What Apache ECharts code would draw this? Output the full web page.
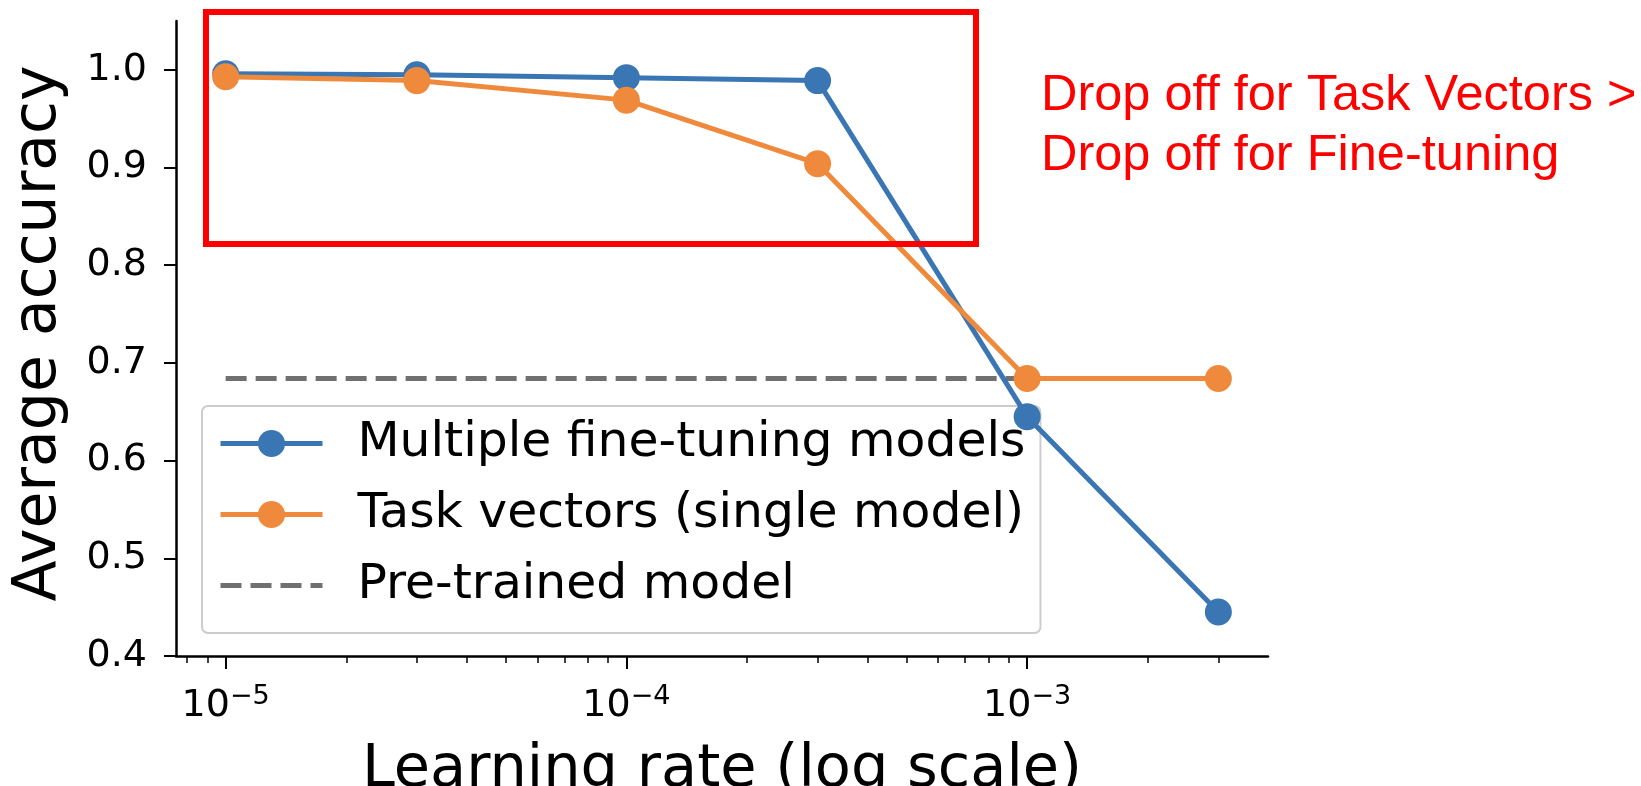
<!DOCTYPE html>
<html>
<head>
<meta charset="utf-8">
<script src="https://cdn.jsdelivr.net/npm/echarts@6/dist/echarts.min.js"></script>
<style>
html,body{margin:0;padding:0;background:#ffffff;}
#chart{width:1641px;height:786px;}
</style>
</head>
<body>
<div id="chart"></div>
<script>
// ---- data ----
const learningRates = [1e-5, 3e-5, 1e-4, 3e-4, 1e-3, 3e-3];
const multipleFineTuning = [0.996, 0.995, 0.992, 0.989, 0.645, 0.445];
const taskVectors = [0.993, 0.989, 0.969, 0.904, 0.684, 0.684];
const pretrainedAccuracy = 0.684;
const yTicks = [0.4, 0.5, 0.6, 0.7, 0.8, 0.9, 1.0];
const xMajorExponents = [-5, -4, -3];
const seriesNames = ['Multiple fine-tuning models', 'Task vectors (single model)', 'Pre-trained model'];
const axisNames = ['Learning rate (log scale)', 'Average accuracy'];
const annotationLines = ['Drop off for Task Vectors >', 'Drop off for Fine-tuning'];

// ---- derived ----
const FONT = "'DejaVu Sans', 'Bitstream Vera Sans', sans-serif";
const logX = learningRates.map(v => Math.log10(v));
const lo = Math.min(...logX), hi = Math.max(...logX);
const pad = (hi - lo) * 0.05;          // matplotlib-style 5% margin in log space
const xMin = lo - pad, xMax = hi + pad;
const minorTicks = [];
for (let n = -7; n <= -2; n++) {
  for (let k = 2; k <= 9; k++) {
    const t = n + Math.log10(k);
    if (t > xMin && t < xMax) minorTicks.push(t);
  }
}
const blueData = logX.map((x, i) => [x, multipleFineTuning[i]]);
const orangeData = logX.map((x, i) => [x, taskVectors[i]]);
const grayData = [[logX[0], pretrainedAccuracy], [logX[logX.length - 1], pretrainedAccuracy]];

const BLUE = '#3a76b3', ORANGE = '#ef8a3c', GRAY = '#707070';

const chart = echarts.init(document.getElementById('chart'), null, {renderer: 'canvas'});
chart.setOption({
  animation: false,
  backgroundColor: '#ffffff',
  grid: {left: 176, right: 373, top: 21, bottom: 130, containLabel: false, outerBoundsMode: 'none'},
  xAxis: [
    {
      type: 'value', min: xMin, max: xMax, position: 'bottom',
      axisLine: {show: true, onZero: false, lineStyle: {color: '#000', width: 2.5}},
      axisTick: {show: true, length: 13, customValues: xMajorExponents, lineStyle: {color: '#000', width: 2}},
      axisLabel: {
        show: true, customValues: xMajorExponents, margin: 27,
        formatter: v => '{b|10}{s|\u2212' + Math.abs(v) + '}',
        rich: {
          b: {fontSize: 38, fontFamily: FONT, color: '#000', lineHeight: 46},
          s: {fontSize: 27, fontFamily: FONT, color: '#000', lineHeight: 27, verticalAlign: 'top'}
        }
      },
      splitLine: {show: false},
      name: axisNames[0], nameLocation: 'middle', nameGap: 85,
      nameTextStyle: {fontSize: 59, fontFamily: FONT, color: '#000', lineHeight: 59}
    },
    {
      type: 'value', min: xMin, max: xMax, position: 'bottom',
      axisLine: {show: false, onZero: false},
      axisTick: {show: true, length: 7, customValues: minorTicks, lineStyle: {color: '#000', width: 1.5}},
      axisLabel: {show: false},
      splitLine: {show: false}
    }
  ],
  yAxis: {
    type: 'value', min: 0.4, max: 1.05, position: 'left',
    axisLine: {show: true, onZero: false, lineStyle: {color: '#000', width: 2.5}},
    axisTick: {show: true, length: 12, customValues: yTicks, lineStyle: {color: '#000', width: 2}},
    axisLabel: {show: true, customValues: yTicks, formatter: v => v.toFixed(1), fontSize: 38, fontFamily: FONT, color: '#000', margin: 29},
    splitLine: {show: false},
    name: axisNames[1], nameLocation: 'middle', nameRotate: 90, nameGap: 107,
    nameTextStyle: {fontSize: 60, fontFamily: FONT, color: '#000', lineHeight: 60, padding: [0, 0, 0, 10]}
  },
  legend: {
    orient: 'vertical', left: 202, top: 406, z: 1,
    data: [
      {name: seriesNames[0]},
      {name: seriesNames[1]},
      {name: seriesNames[2], itemStyle: {opacity: 0}}
    ],
    itemWidth: 102, itemHeight: 34, itemGap: 22,
    padding: [13, 15, 23, 16],
    backgroundColor: 'rgba(255,255,255,0.8)',
    borderColor: '#cccccc', borderWidth: 2, borderRadius: 6,
    textStyle: {fontSize: 48.8, fontFamily: FONT, color: '#000', lineHeight: 48, padding: [0, 0, 0, 30]},
    lineStyle: {width: 5},
    selectedMode: false
  },
  series: [
    {
      name: seriesNames[2], type: 'line', data: grayData, xAxisIndex: 0, z: 2,
      symbol: 'none', color: GRAY,
      lineStyle: {color: GRAY, width: 5, type: [21, 9], cap: 'butt'},
      silent: true
    },
    {
      name: seriesNames[0], type: 'line', data: blueData, xAxisIndex: 0, z: 3,
      symbol: 'circle', symbolSize: 27, color: BLUE,
      itemStyle: {color: BLUE}, lineStyle: {color: BLUE, width: 5},
      silent: true
    },
    {
      name: seriesNames[1], type: 'line', data: orangeData, xAxisIndex: 0, z: 3,
      symbol: 'circle', symbolSize: 27, color: ORANGE,
      itemStyle: {color: ORANGE}, lineStyle: {color: ORANGE, width: 5},
      silent: true
    }
  ],
  graphic: [
    {type: 'rect', z: 100, shape: {x: 206, y: 12, width: 770, height: 232},
     style: {fill: 'none', stroke: '#ff0000', lineWidth: 6}},
    {type: 'text', z: 100, x: 1041, y: 96,
     style: {text: annotationLines[0], fill: '#ff0000', fontSize: 50.5, fontFamily: "'Liberation Sans', Arial, sans-serif", align: 'left', verticalAlign: 'middle'}},
    {type: 'text', z: 100, x: 1041, y: 156.5,
     style: {text: annotationLines[1], fill: '#ff0000', fontSize: 50.5, fontFamily: "'Liberation Sans', Arial, sans-serif", align: 'left', verticalAlign: 'middle'}}
  ]
});
</script>
</body>
</html>
